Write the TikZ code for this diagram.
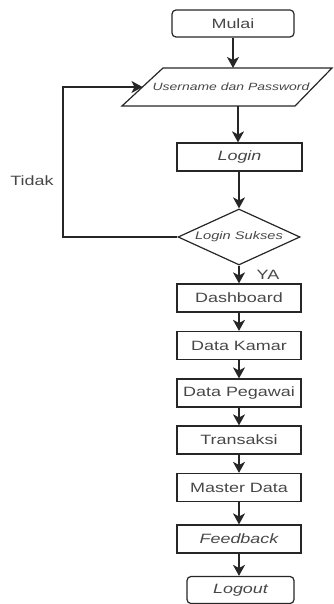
\documentclass[tikz,border=0pt]{standalone}
\usepackage{fontspec}
\setmainfont{Liberation Sans}[FakeStretch=1.33]
\usetikzlibrary{shapes.geometric,arrows.meta}
\tikzset{
  base/.style={draw=black!85, line width=1.2pt, text=black!72, inner sep=0pt, font=\fontsize{13.5}{16}\selectfont},
  procbox/.style={base, rectangle, minimum width=124pt, minimum height=28pt},
  termbox/.style={base, rectangle, rounded corners=4pt, minimum height=27pt},
  decbox/.style={base, diamond, aspect=2.18, minimum width=122pt, minimum height=56pt, font=\fontsize{11}{13}\selectfont\itshape},
  flow/.style={draw=black!85, line width=1.4pt, -{Stealth[length=11pt,width=12pt,inset=3pt]}},
  lbl/.style={text=black!72, inner sep=0pt, font=\fontsize{13.5}{16}\selectfont}
}
\begin{document}
\begin{tikzpicture}[x=1pt,y=-1pt]
\useasboundingbox (0,0) rectangle (333,604);
% nodes
\node[termbox, minimum width=122pt] (mulai) at (233,23.5) {Mulai};
% parallelogram
\coordinate (ptl) at (163,68);
\coordinate (ptr) at (332,68);
\coordinate (pbr) at (295,106);
\coordinate (pbl) at (122,106);
\coordinate (pL) at (142.5,87);
\draw[draw=black!85, line width=1.2pt] (ptl) -- (ptr) -- (pbr) -- (pbl) -- cycle;
\node[text=black!72, inner sep=0pt, font=\fontsize{10.5}{12}\selectfont\itshape] (para) at (231,87) {Username dan Password};
\node[procbox, minimum width=125pt, font=\fontsize{13.5}{16}\selectfont\itshape] (login) at (239.5,157) {Login};
\node[decbox] (cek) at (239,237) {Login Sukses};
\node[procbox] (dash) at (239,298) {Dashboard};
\node[procbox] (kamar) at (239,345.5) {Data Kamar};
\node[procbox] (pegawai) at (239,393) {Data Pegawai};
\node[procbox] (trans) at (239,440) {Transaksi};
\node[procbox] (master) at (239,487.5) {Master Data};
\node[procbox, font=\fontsize{13.5}{16}\selectfont\itshape] (feed) at (239,539) {Feedback};
\node[termbox, minimum width=107pt, font=\fontsize{13.5}{16}\selectfont\itshape] (logout) at (240.5,590) {Logout};
\node[lbl] (tidak) at (32,181) {Tidak};
\node[lbl] (ya) at (268,275) {YA};
\coordinate (loopB) at (63,237);
\coordinate (loopT) at (63,87);
\coordinate (pbot) at (238,106);
% connectors
\draw[flow] (mulai.south) -- (mulai.south |- ptl);
\draw[flow] (pbot) -- (pbot |- login.north);
\draw[flow] (login.south -| cek.north) -- (cek.north);
\draw[flow] (cek.south) -- (dash.north);
\draw[flow] (dash) -- (kamar);
\draw[flow] (kamar) -- (pegawai);
\draw[flow] (pegawai) -- (trans);
\draw[flow] (trans) -- (master);
\draw[flow] (master) -- (feed);
\draw[flow] (feed.south) -- (feed.south |- logout.north);
\draw[flow] (cek.west) -- (loopB) -- (loopT) -- (pL);
\end{tikzpicture}
\end{document}
